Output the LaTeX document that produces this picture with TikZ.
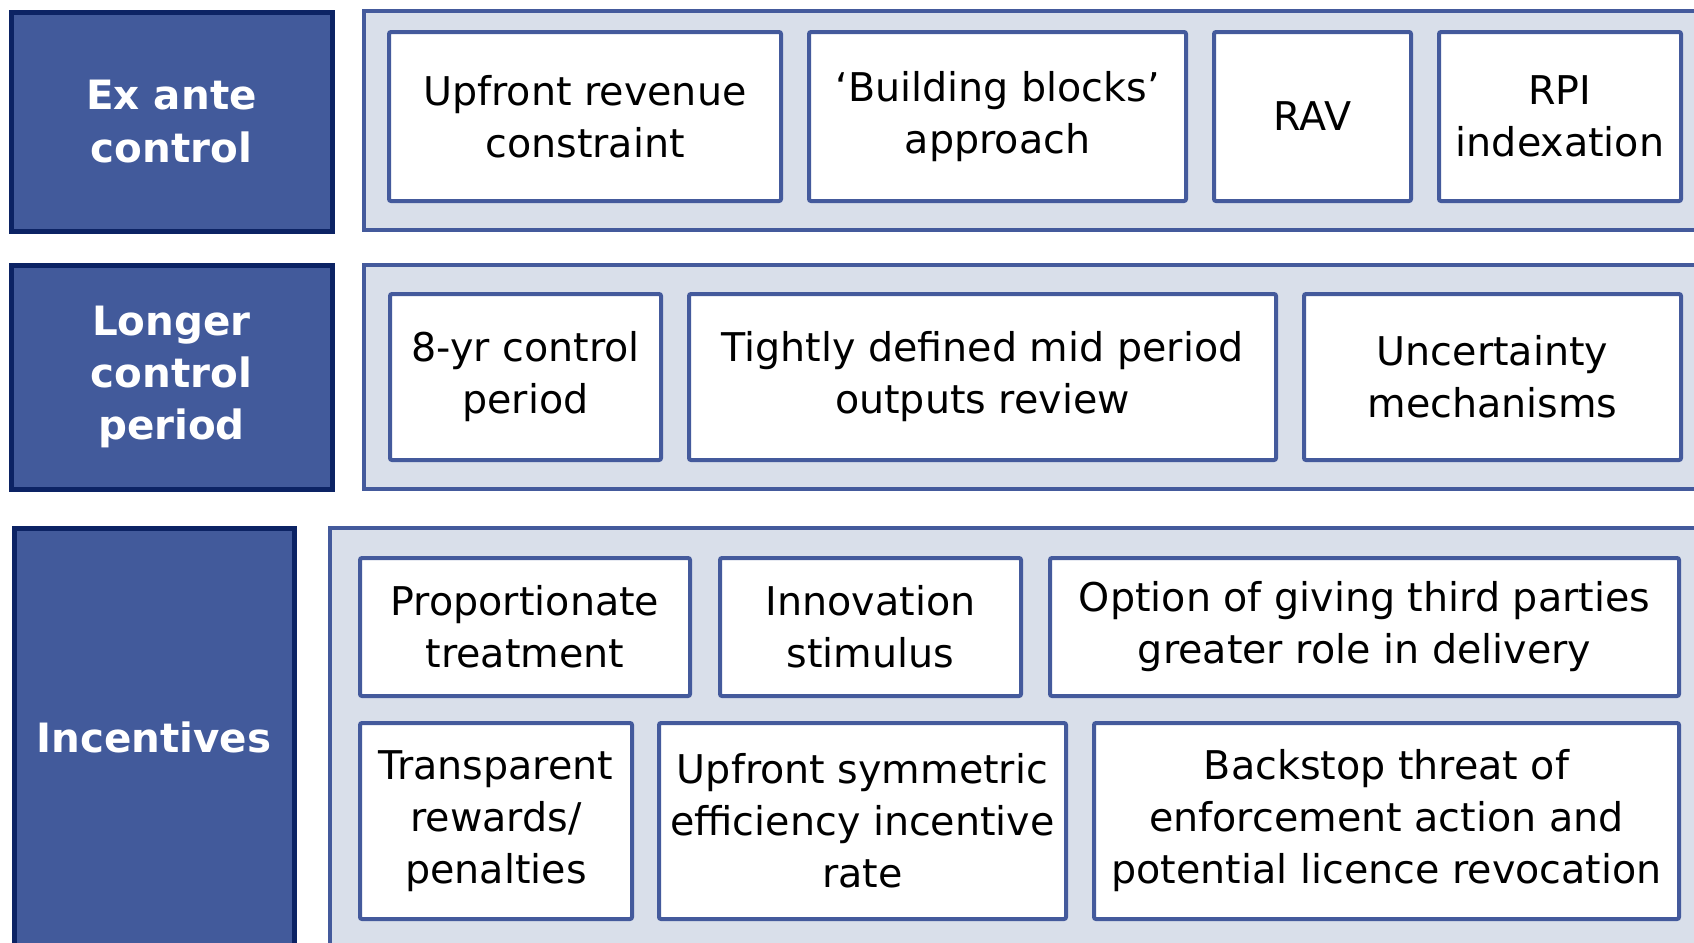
\documentclass[tikz,border=0pt]{standalone}
\usepackage{fontspec}
\setmainfont{DejaVu Sans}
\definecolor{barfill}{RGB}{66,90,155}
\definecolor{barline}{RGB}{12,35,100}
\definecolor{panelfill}{RGB}{217,223,234}
\definecolor{boxline}{RGB}{68,90,156}

\begin{document}
\begin{tikzpicture}[x=0.5pt,y=-0.5pt,
	bar/.style={draw=barline,fill=barfill,line width=2.5pt,text=white,align=center,
		font=\fontsize{20.2}{26.2}\selectfont\bfseries,inner sep=0pt},
	panel/.style={draw=boxline,fill=panelfill,line width=2pt},
	item/.style={draw=boxline,fill=white,line width=2pt,align=center,inner sep=0pt,
		font=\fontsize{19.8}{26}\selectfont,rounded corners=1pt}]
	\useasboundingbox (0,0) rectangle (1694,943);
	\clip (0,0) rectangle (1694,943);
	% panels
	\draw[panel] (364,11) rectangle (1720,230);
	\draw[panel] (364,265) rectangle (1720,489);
	\draw[panel] (330,528) rectangle (1720,980);
	% row labels
	\node[bar,minimum width=160.5pt,minimum height=109.5pt] (exante) at (171.5,121.5) {Ex ante\\control};
	\node[bar,minimum width=160.5pt,minimum height=112pt] (longer) at (171.5,377) {Longer\\control\\period};
	\node[bar,minimum width=140pt,minimum height=209pt] (incent) at (154,737) {Incentives};
	% ex ante control
	\node[item,minimum width=196pt,minimum height=84.5pt] (upfront) at (585,116.5) {Upfront revenue\\constraint};
	\node[item,minimum width=188.5pt,minimum height=84.5pt] (blocks) at (997.5,116.5) {‘Building blocks’\\approach};
	\node[item,minimum width=98.5pt,minimum height=84.5pt] (rav) at (1312.5,116.5) {RAV};
	\node[item,minimum width=121pt,minimum height=84.5pt] (rpi) at (1560,116.5) {RPI\\indexation};
	% longer control period
	\node[item,minimum width=135.5pt,minimum height=83pt] (eightyr) at (525.5,377) {8-yr control\\period};
	\node[item,minimum width=293.5pt,minimum height=83pt] (midreview) at (982.5,377) {Tightly defined mid period\\outputs review};
	\node[item,minimum width=188.5pt,minimum height=83pt] (uncert) at (1492.5,377) {Uncertainty\\mechanisms};
	% incentives
	\node[item,minimum width=165pt,minimum height=69pt] (propo) at (525,627) {Proportionate\\treatment};
	\node[item,minimum width=150.5pt,minimum height=69pt] (innov) at (870.5,627) {Innovation\\stimulus};
	\node[item,minimum width=314.5pt,minimum height=69pt] (thirdp) at (1364.5,627) {Option of giving third parties\\greater role in delivery};
	\node[item,minimum width=136pt,minimum height=98pt] (transp) at (496,821) {Transparent\\rewards/\\penalties};
	\node[item,minimum width=203.5pt,minimum height=98pt] (symm) at (862.5,821) {Upfront symmetric\\efficiency incentive\\rate};
	\node[item,minimum width=292.5pt,minimum height=98pt] (backstop) at (1386.5,821) {Backstop threat of\\enforcement action and\\potential licence revocation};
\end{tikzpicture}
\end{document}
